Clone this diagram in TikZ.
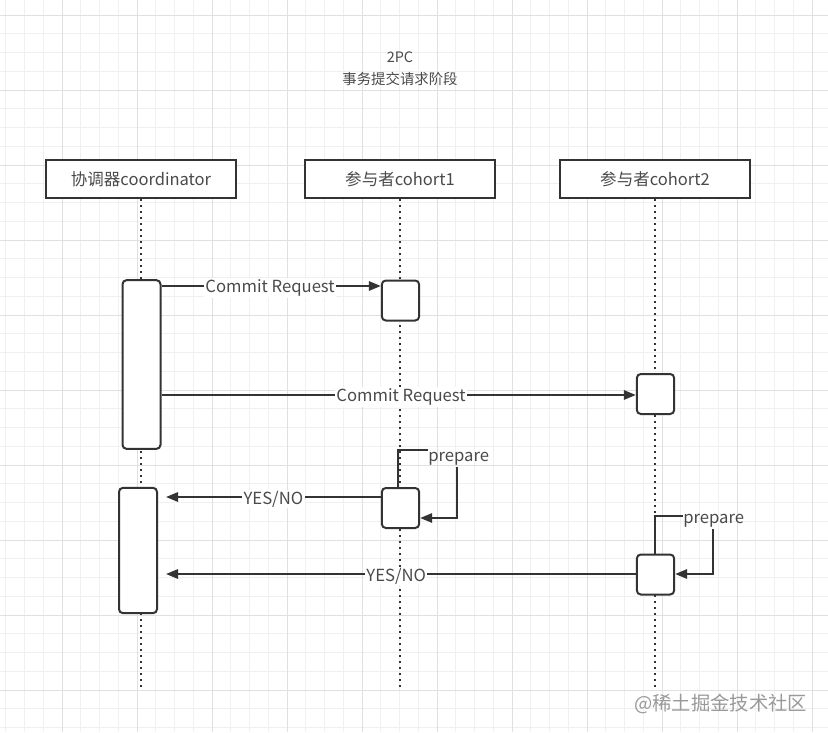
\documentclass[tikz,border=0pt]{standalone}
\usepackage{fontspec}
\setmainfont{Noto Sans CJK SC}
\usetikzlibrary{arrows.meta}
\definecolor{ink}{HTML}{333333}
\definecolor{txt}{HTML}{4A4A4A}
\tikzset{
  head/.style={draw=ink,line width=1.5pt,fill=white,minimum width=142.5pt,minimum height=28.5pt,inner sep=0pt,font=\fontsize{12.4pt}{14pt}\selectfont,text=txt},
  act/.style={draw=ink,line width=1.5pt,fill=white,rounded corners=3pt,inner sep=0pt},
  life/.style={ink,line width=1.5pt,dash pattern=on 1.5pt off 3pt},
  msg/.style={ink,line width=1.5pt,-{Triangle[length=9pt,width=7pt]}},
  lbl/.style={fill=white,inner sep=1pt,font=\fontsize{12.5pt}{14pt}\selectfont,text=txt},
  onl/.style={lbl,yshift=-1.5pt},
  minorgrid/.style={draw=black!6,line width=0.6pt},
  majorgrid/.style={draw=black!12,line width=0.7pt}
}
\begin{document}
\begin{tikzpicture}[x=0.75pt,y=-0.75pt]
\useasboundingbox (0,0) rectangle (828,732);
\fill[white] (0,0) rectangle (828,732);
% grid
\foreach \i in {-2,...,42} {
  \draw[minorgrid] ({62+18.75*(\i-3)},0) -- ({62+18.75*(\i-3)},732);
  \draw[minorgrid] (0,{15+18.75*\i}) -- (828,{15+18.75*\i});
}
\foreach \i in {-1,...,11} {
  \draw[majorgrid] ({62+75*\i},0) -- ({62+75*\i},732);
  \draw[majorgrid] (0,{15+75*\i}) -- (828,{15+75*\i});
}
% title
\node[font=\fontsize{10.8pt}{16.5pt}\selectfont,text=txt,align=center] (title) at (400,68.5) {2PC\\事务提交请求阶段};
% headers
\node[head] (coord) at (141,179) {协调器coordinator};
\node[head] (c1) at (400,179) {参与者cohort1};
\node[head] (c2) at (655,179) {参与者cohort2};
% lifeline ends
\coordinate (e0) at (141,690);
\coordinate (e1) at (400,690);
\coordinate (e2) at (655,690);
\draw[life] (coord.south) -- (e0);
\draw[life] (c1.south) -- (e1);
\draw[life] (c2.south) -- (e2);
% activations
\node[act,minimum width=28.5pt,minimum height=126.5pt] (a0) at (141.5,364.5) {};
\node[act,minimum width=28.5pt,minimum height=94pt] (a1) at (138,550.5) {};
\node[act,minimum width=28pt,minimum height=30pt] (b0) at (400.5,300.5) {};
\node[act,minimum width=28pt,minimum height=30pt] (b1) at (400.5,508) {};
\node[act,minimum width=28pt,minimum height=30pt] (d0) at (655.5,394) {};
\node[act,minimum width=28pt,minimum height=30pt] (d1) at (655.5,574.5) {};
% messages
\draw[msg] (a0.east |- 0,286) -- node[onl,pos=0.495] (m1) {Commit Request} (b0.west |- 0,286);
\draw[msg] (a0.east |- 0,395) -- node[onl,pos=0.505] (m2) {Commit Request} (d0.west |- 0,395);
\draw[msg] (b1.west |- 0,497) -- node[onl,pos=0.50] (m3) {YES/NO} ([xshift=6pt]a1.east |- 0,497);
\draw[msg] (d1.west |- 0,574) -- node[onl,pos=0.51] (m4) {YES/NO} ([xshift=6pt]a1.east |- 0,574);
% self loops
\node[lbl,anchor=west,inner sep=0pt,fill=none] (p1) at (428,459) {prepare};
\coordinate (p1s) at (398,450);
\draw[ink,line width=1.5pt] (b1.north -| 398,0) -- (p1s) -- (p1.west |- p1s);
\draw[msg] (457,467) -- (457,518) -- (b1.east |- 0,518);
\node[lbl,anchor=west,inner sep=0pt,fill=none] (p2) at (683,521) {prepare};
\coordinate (p2s) at (655,516);
\draw[ink,line width=1.5pt] (d1.north -| 655,0) -- (p2s) -- (p2.west |- p2s);
\draw[msg] (713,529) -- (713,574) -- (d1.east |- 0,574);
% watermark
\node[text=black!40,font=\fontsize{14.5pt}{16pt}\selectfont,anchor=east] (wm) at (812,704) {@稀土掘金技术社区};
\end{tikzpicture}
\end{document}
